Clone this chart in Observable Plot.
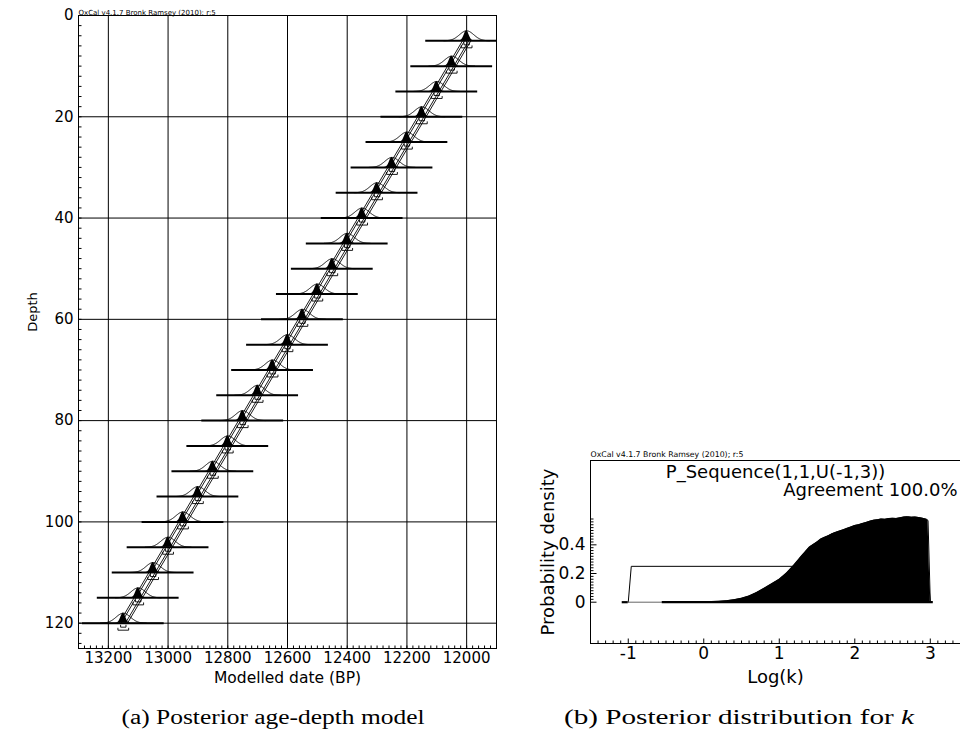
<!DOCTYPE html>
<html><head><meta charset="utf-8">
<script src="https://cdn.jsdelivr.net/npm/d3@7"></script>
<script src="https://cdn.jsdelivr.net/npm/@observablehq/plot@0.6"></script>
<style>
body{margin:0;background:#fff;}
#fig{position:relative;width:960px;height:733px;overflow:hidden;background:#fff;}
.panel{position:absolute;}
#caps{position:absolute;left:0;top:0;}
</style></head><body><div id="fig"><div id="pa" class="panel" style="left:0;top:0"></div><div id="pb" class="panel" style="left:520px;top:440px"></div></div>
<script>
// ---------- Panel (a): posterior age-depth model ----------
const depths = [5,10,15,20,25,30,35,40,45,50,55,60,65,70,75,80,85,90,95,100,105,110,115,120];
const modelledDates = [12000,12050,12100,12150,12200,12250,12300,12350,12400,12450,12500,12550,12600,12650,12700,12750,12800,12850,12900,12950,13000,13050,13100,13150];
const likelihoodSigma = 24;      // years
const posteriorSigma = 8;        // years
const baselineHalfWidth = 137;   // years
const range68 = 9, range95 = 18; // years
const envelopeOffsets = [-14, -7, 7, 14]; // years
const dateTicks = [13200,13000,12800,12600,12400,12200,12000];
const depthTicks = [0,20,40,60,80,100,120];
const depthGrid = [20,40,60,80,100,120];

// ---------- Panel (b): posterior distribution for k ----------
const logK = [-0.55,-0.3,0,0.2,0.3,0.4,0.5,0.6,0.7,0.8,0.9,1.0,1.1,1.2,1.3,1.4,1.5,1.55,1.6,1.65,1.7,1.75,1.8,1.85,1.9,1.95,2.0,2.05,2.1,2.15,2.2,2.25,2.3,2.35,2.4,2.45,2.5,2.55,2.6,2.65,2.7,2.75,2.8,2.85,2.9,2.95,2.97,3.0];
const posteriorDensity = [0,0.001,0.003,0.006,0.01,0.017,0.027,0.043,0.067,0.097,0.128,0.16,0.205,0.262,0.325,0.385,0.42,0.44,0.452,0.464,0.478,0.487,0.497,0.505,0.515,0.525,0.535,0.54,0.548,0.556,0.565,0.572,0.575,0.58,0.578,0.583,0.585,0.584,0.588,0.594,0.596,0.593,0.594,0.59,0.585,0.578,0.57,0];
const priorLogK = [-1.0,-0.96,2.96,3.0];
const priorDensity = [0,0.25,0.25,0];
const logKTicks = [-1,0,1,2,3];
const densityTicks = [0,0.2,0.4];

const FONT = "DejaVu Sans";

// ===== Panel A geometry =====
const A = {width:520, height:690, left:78, top:15, right:24, bottom:42};
const xDomA = [13300, 11900], yDomA = [0, 125];
const pxPerYear = (A.width - A.left - A.right) / (xDomA[0] - xDomA[1]);
const pxPerDepth = (A.height - A.top - A.bottom) / (yDomA[1] - yDomA[0]);
const pD = p => p / pxPerDepth, pY = p => p / pxPerYear;

const elements = depths.map((d, i) => ({depth: d, date: modelledDates[i]}));
const baselines = elements.map(e => ({depth: e.depth,
  x1: Math.min(e.date + baselineHalfWidth, xDomA[0]), x2: Math.max(e.date - baselineHalfWidth, xDomA[1])}));
const peakH = pD(10);
const likePts = elements.flatMap(e => d3.range(-3.2*likelihoodSigma, 3.2*likelihoodSigma + 0.1, 1).map(o => ({
  depth: e.depth, x: e.date + o, y: e.depth - peakH * Math.exp(-0.5 * (o/likelihoodSigma) ** 2)})));
const postPts = elements.flatMap(e => d3.range(-3*posteriorSigma, 3*posteriorSigma + 0.1, 0.5).map(o => ({
  depth: e.depth, x: e.date + o, y1: e.depth, y2: e.depth - peakH * Math.exp(-0.5 * (o/posteriorSigma) ** 2)})));
const envPts = envelopeOffsets.flatMap(off => elements.map(e => ({k: off, x: e.date + off, y: e.depth})));
const bracketPts = elements.flatMap(e => [[range68, 4], [range95, 7]].flatMap(([r, o]) => {
  const yb = e.depth + pD(o), yt = yb - pD(2), id = e.depth + "-" + r;
  return [{id, x: e.date + r, y: yt}, {id, x: e.date + r, y: yb}, {id, x: e.date - r, y: yb}, {id, x: e.date - r, y: yt}];
}));
const minorDates = d3.range(xDomA[1], xDomA[0] + 1, 20);
const minorDepths = d3.range(yDomA[0], yDomA[1], 2);

const plotA = Plot.plot({
  width: A.width, height: A.height,
  marginLeft: A.left, marginTop: A.top, marginRight: A.right, marginBottom: A.bottom,
  x: {domain: xDomA},
  y: {domain: yDomA, reverse: true},
  style: {fontFamily: FONT, fontSize: "15px", background: "transparent", overflow: "visible", color: "#000"},
  marks: [
    Plot.ruleX(dateTicks, {stroke: "#000", strokeWidth: 1}),
    Plot.ruleY(depthGrid, {stroke: "#000", strokeWidth: 1}),
    Plot.link(minorDates, {x1: d => d, x2: d => d, y1: yDomA[1], y2: yDomA[1] - pD(3), stroke: "#000"}),
    Plot.link(minorDepths, {y1: d => d, y2: d => d, x1: xDomA[0], x2: xDomA[0] - pY(3), stroke: "#000"}),
    Plot.ruleY(baselines, {y: "depth", x1: "x1", x2: "x2", stroke: "#000", strokeWidth: 2}),
    Plot.line(envPts, {x: "x", y: "y", z: "k", stroke: "#000", strokeWidth: 0.9}),
    Plot.line(likePts, {x: "x", y: "y", z: "depth", stroke: "#000", strokeWidth: 1}),
    Plot.areaY(postPts, {x: "x", y1: "y1", y2: "y2", z: "depth", fill: "#000"}),
    Plot.line(bracketPts, {x: "x", y: "y", z: "id", stroke: "#000", strokeWidth: 0.9}),
    Plot.frame({stroke: "#000"}),
    Plot.axisX({ticks: dateTicks, tickSize: 0, tickPadding: 4, tickFormat: d => String(d), label: null, fontSize: 15}),
    Plot.axisY({ticks: depthTicks, tickSize: 0, tickPadding: 5, tickFormat: d => String(d), label: null, fontSize: 15}),
    Plot.text(["Modelled date (BP)"], {text: d => d, frameAnchor: "bottom", dy: 34, fontSize: 15.5}),
    Plot.text(["Depth"], {text: d => d, frameAnchor: "left", textAnchor: "middle", dx: -46, dy: -20, rotate: -90, fontSize: 13}),
    Plot.text(["OxCal v4.1.7 Bronk Ramsey (2010); r:5"], {text: d => d, frameAnchor: "top-left", textAnchor: "start", dx: 0, dy: -5, fontSize: 7})
  ]
});
document.getElementById("pa").appendChild(plotA);

// ===== Panel B geometry =====
const B = {width:440, height:255, left:70, top:20, right:0, bottom:52};
const xDomB = [-1.5, 3.4], yDomB = [-0.288, 0.988];
const pxPerK = (B.width - B.left - B.right) / (xDomB[1] - xDomB[0]);
const pxPerDens = (B.height - B.top - B.bottom) / (yDomB[1] - yDomB[0]);
const pK = p => p / pxPerK, pP = p => p / pxPerDens;

const post = logK.map((x, i) => ({x, y: posteriorDensity[i]}));
const prior = priorLogK.map((x, i) => ({x, y: priorDensity[i]}));
const minorK = d3.range(-15, 35).map(i => i / 10);
const minorDens = d3.range(0, 30).map(i => i / 50);
const baseSegs = [
  {x1: -1.08, x2: -1.0, w: 2.2, c: "#000"},
  {x1: -1.0, x2: -0.55, w: 1, c: "#666"},
  {x1: -0.55, x2: 3.04, w: 2.2, c: "#000"}
];

const plotB = Plot.plot({
  width: B.width, height: B.height,
  marginLeft: B.left, marginTop: B.top, marginRight: B.right, marginBottom: B.bottom,
  x: {domain: xDomB},
  y: {domain: yDomB},
  style: {fontFamily: FONT, fontSize: "16px", background: "transparent", overflow: "visible", color: "#000"},
  marks: [
    Plot.link(minorK, {x1: d => d, x2: d => d, y1: yDomB[0], y2: d => yDomB[0] + pP(Number.isInteger(d) ? 5 : 3), stroke: "#000"}),
    Plot.link(minorDens, {y1: d => d, y2: d => d, x1: xDomB[0], x2: d => xDomB[0] + pK([0, 0.2, 0.4].some(v => Math.abs(v - d) < 1e-9) ? 6 : 3), stroke: "#000"}),
    Plot.line(prior, {x: "x", y: "y", stroke: "#000", strokeWidth: 1}),
    Plot.areaY(post, {x: "x", y: "y", fill: "#000"}),
    Plot.line(post, {x: "x", y: "y", stroke: "#000", strokeWidth: 1}),
    Plot.ruleY(baseSegs, {y: 0, x1: "x1", x2: "x2", stroke: "c", strokeWidth: "w"}),
    Plot.frame({anchor: "left", stroke: "#000"}),
    Plot.frame({anchor: "top", stroke: "#000"}),
    Plot.frame({anchor: "bottom", stroke: "#000"}),
    Plot.axisX({ticks: logKTicks, tickSize: 0, tickPadding: 3, tickFormat: d => String(d), label: null, fontSize: 17}),
    Plot.axisY({ticks: densityTicks, tickSize: 0, tickPadding: 5, tickFormat: d => String(d), label: null, fontSize: 17}),
    Plot.text(["Log(k)"], {text: d => d, frameAnchor: "bottom", dy: 39, fontSize: 18}),
    Plot.text(["Probability density"], {text: d => d, frameAnchor: "left", textAnchor: "middle", dx: -42, rotate: -90, fontSize: 18}),
    Plot.text(["P_Sequence(1,1,U(-1,3))"], {text: d => d, frameAnchor: "top", dy: 5, fontSize: 18}),
    Plot.text(["Agreement 100.0%"], {text: d => d, frameAnchor: "top-right", textAnchor: "end", dx: -3, dy: 23, fontSize: 18}),
    Plot.text(["OxCal v4.1.7 Bronk Ramsey (2010); r:5"], {text: d => d, frameAnchor: "top-left", textAnchor: "start", dy: -9, fontSize: 7.8})
  ]
});
document.getElementById("pb").appendChild(plotB);

// ===== Captions =====
const caps = d3.select("#fig").append("svg").attr("id", "caps").attr("width", 960).attr("height", 733)
  .style("pointer-events", "none");
caps.append("text").attr("x", 273).attr("y", 724).attr("text-anchor", "middle")
  .attr("font-family", "Liberation Serif").attr("font-size", 20)
  .attr("textLength", 303).attr("lengthAdjust", "spacingAndGlyphs")
  .text("(a) Posterior age-depth model");
const tb = caps.append("text").attr("x", 739).attr("y", 724).attr("text-anchor", "middle")
  .attr("font-family", "Liberation Serif").attr("font-size", 20)
  .attr("textLength", 350).attr("lengthAdjust", "spacingAndGlyphs");
tb.append("tspan").text("(b) Posterior distribution for ");
tb.append("tspan").attr("font-style", "italic").text("k");
</script></body></html>
